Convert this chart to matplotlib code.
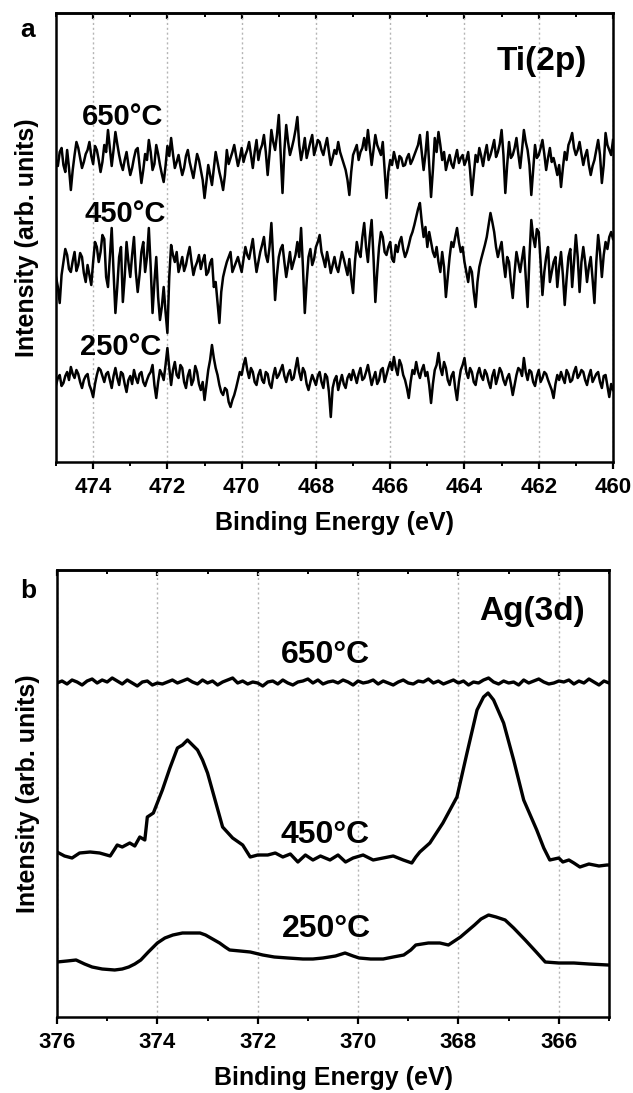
import numpy as np
import matplotlib.pyplot as plt
from matplotlib.ticker import MultipleLocator

plt.rcParams['font.family'] = 'Liberation Sans'
plt.rcParams['font.weight'] = 'bold'

# ---- panel a: Ti(2p), noise, 475 -> 460 eV ----
ti_650 = [0, -6, 8, 12, -5, -12, 10, -8, -30, -10, 5, 18, 12, 2, -8, -2, 6, 10, 18, 4, -4, 14, 10, 0, -12, -2, 15, 8, 30, 12, -6, 10, 28, 16, 5, -4, -10, 0, 8, -5,
          -15, -8, 2, 10, 12, -6, -23, -10, 6, 0, 20, 8, -10, -4, 15, 6, -5, -14, -22, -6, 14, 4, 22, 6, -8, -2, 5, -6, -15, -8, 4, 10, -2, -10, -18, -6, 6, 0, -10, -20,
          -38, -22, -5, -15, -25, -8, 8, -2, -12, -20, -30, -15, 10, -4, 2, 8, 15, 4, -6, 2, 12, -2, 5, 10, 18, 5, -8, 8, 20, 0, 10, 15, 25, 8, -15, 6, 30, 18, 10, 25,
          45, 5, -33, 10, 35, 18, 5, 12, 20, 30, 43, 15, 0, 10, 22, 2, 10, 18, 25, 5, 12, 20, 18, 10, 5, 14, 22, 8, -5, 2, 10, 6, 18, 8, 2, -4, -10, -20, -35, -12,
          5, 10, 15, 0, 8, 12, 22, 10, 30, 12, -5, 10, 25, 15, 10, 5, 18, -10, -38, -12, 0, -5, 8, 0, -8, 4, 2, -6, -5, 2, 6, -4, 0, 5, 10, 15, 25, 8, -10, 6,
          28, -5, -37, -10, 22, 8, 28, 15, 0, 8, -10, -2, 5, -4, -8, 2, 10, -3, 2, 5, -5, 0, 8, -10, -35, -15, 5, -2, 12, 4, -6, 6, 15, 0, 5, 12, 20, 3, 8, 16,
          30, 5, -33, -5, 18, 2, 5, 12, 22, 6, -8, 10, 30, 18, 10, -5, -35, -10, 15, 2, 5, 12, 20, 6, -10, 2, 12, -2, 2, -6, -15, -5, -27, -8, 8, 0, 15, 20, 27, 12,
          5, 10, 18, 6, -5, 4, 10, -5, -15, -6, 0, 10, 20, 5, -23, -5, 27, 15, 10, 5, 20]
ti_450 = [-10, -20, -36, -8, 5, 18, 12, -2, -5, 6, 15, -4, 2, 14, 10, -6, -15, 2, -8, -18, 5, 25, 20, 5, 15, 32, 28, -10, -20, 10, 39, -5, -46, -20, 10, 20, -35, -10, 25, 5,
          -10, 12, 30, -5, -25, -8, 15, 25, -5, 10, 39, 0, -46, -15, 10, -30, -53, -40, -20, -45, -66, -10, 22, 12, 5, 15, -5, 2, 10, -4, 2, 12, 20, 5, -8, 0, 5, 12, -2, 6,
          12, -8, -5, 4, 8, -20, -15, -35, -56, -25, -10, -2, 5, 10, 15, -5, 0, 5, 10, 2, -5, 8, 20, 12, 8, 18, 28, 10, -5, 5, 15, 22, 30, 12, 5, 20, 44, 8, -33, -8,
          10, 18, 22, 5, -10, 2, 15, -2, 5, 12, 25, 10, 39, 0, -46, -15, 10, 18, 2, 8, 20, 25, 32, 15, 8, 0, 15, 5, -6, 2, 10, 0, -5, 5, 15, 8, 0, -8, 8, -12,
          -26, 5, 25, 15, 10, 30, 44, 20, 5, 30, 47, 10, -35, -5, 20, 35, 30, 15, 12, 20, 25, 8, 5, 22, 15, 25, 30, 18, 10, 15, 22, 30, 35, 42, 50, 58, 64, 45, 30, 40,
          20, 35, 25, 15, 10, 20, 5, -5, 15, 0, -30, -10, 10, 25, 20, 30, 39, 25, 15, 20, 5, -5, -15, 0, -5, -25, -40, -15, 0, 8, 15, 22, 30, 42, 54, 45, 35, 20, 10, 18,
          25, 5, -10, 10, 5, -15, -31, -5, 15, 5, -5, 8, 20, -10, -40, 10, 47, 30, 20, 38, 35, 5, -28, -5, 10, 20, -15, -5, 5, 10, -20, 0, 15, -8, -38, -12, 10, 18, -20, 5,
          32, 10, -25, 5, 20, 5, -15, 0, 10, -12, -36, 5, 32, 15, -10, 12, 25, 18, 30, 35, 28]
ti_250 = [-5, 2, 5, -6, -3, 4, 8, 0, 13, 6, 2, 10, 6, -2, -8, 0, 4, 6, -5, -10, -17, -4, 5, 12, 10, 4, -2, 6, 8, 0, -8, 4, 12, 2, -5, 8, 6, -4, -12, 0,
          4, -4, 10, 2, -3, 6, 8, -2, -6, 0, 5, 8, 15, -5, -18, -2, 10, 6, 0, 15, 32, 12, -5, 10, 18, 5, 2, 15, 12, -2, -8, 4, 10, -5, 0, 14, 8, -4, -10, -2,
          -20, -5, 10, 20, 35, 22, 12, 5, -5, -12, -15, -8, -10, -22, -27, -20, -15, -8, 0, 8, 5, 15, 22, 10, 2, 12, 8, -2, -5, 5, 10, 0, -3, 8, 6, -4, -8, 4, 12, 2,
          5, 10, 15, 4, -2, 6, 10, 0, 2, 12, 22, 8, 0, 12, 8, -4, -10, -2, 5, 0, -5, 4, 8, -2, -8, 6, 3, -12, -37, -8, 0, 4, -10, -2, 5, -4, -8, 2, 6, 0,
          10, 4, -3, 6, 12, 0, 2, 8, 15, 5, -5, 2, 8, -4, 0, 10, 12, -2, 5, 12, 18, 10, 23, 12, 5, 20, 15, 5, 0, -8, -18, -2, 10, 6, 18, 8, 2, 10, 15, 4,
          8, -5, -23, -4, 10, 15, 27, 12, 5, 18, 12, 0, -5, 4, 8, -8, -20, -2, 10, 15, 22, 8, 2, 12, 8, -2, -5, 6, 12, 4, 0, 10, 6, -2, -8, 4, 10, -4, 3, 12,
          8, 0, -5, 2, 6, -4, -15, -5, 5, 12, 10, 4, 22, 8, 0, 10, 8, -2, -6, 4, 10, -2, 2, 8, 6, 0, -5, -10, -18, -4, 5, 0, 8, 2, -3, 10, 6, -2, 0, 8,
          13, 2, 5, 10, 8, 0, -5, 4, 10, -2, 2, 6, 8, -2, -8, 4, 5, -6, -17, -4, -10]
ti_offsets = [302, 195, 82]
ti_labels = ['650°C', '450°C', '250°C']

# ---- panel b: Ag(3d), 376 -> 365 eV ----
ag_650 = [0, 2, -1, 3, 1, -2, 2, 4, 0, 3, 1, 5, 2, -1, 3, 0, -3, 1, 2, -2,
          0, -1, 1, 3, 0, 2, 4, 1, -1, 3, 0, 2, -2, 1, 3, 5, 0, 2, -1, 1,
          0, -3, 1, 2, -1, 3, 0, -2, 1, 2, 4, 0, 3, -1, 1, 2, 0, 3, 1, -2,
          2, 0, 1, 3, -1, 2, 0, -2, 1, 3, 0, -1, 2, 1, 4, 0, 2, -1, 1, 3,
          0, 2, -2, 1, 0, 3, 5, 1, -1, 2, 0, 1, -2, 3, 0, 2, 4, 1, -1, 0,
          2, 1, 3, -1, 2, 0, 4, 1, -2, 2, 0]
ag_650_level = 334

ag_450_e = [376.0, 375.85, 375.7, 375.55, 375.34, 375.15, 374.94, 374.85, 374.8, 374.7,
            374.55, 374.45, 374.35, 374.25, 374.2, 374.08, 373.9, 373.75, 373.6, 373.5,
            373.4, 373.3, 373.2, 373.1, 373.0, 372.85, 372.7, 372.5, 372.3, 372.15,
            372.0, 371.8, 371.65, 371.5, 371.35, 371.2, 371.05, 370.9, 370.75, 370.56,
            370.4, 370.25, 370.1, 369.9, 369.7, 369.5, 369.3, 369.1, 368.93, 368.85,
            368.77, 368.57, 368.31, 368.03, 367.83, 367.63, 367.5, 367.41, 367.3, 367.1,
            366.9, 366.7, 366.44, 366.3, 366.18, 366.0, 365.92, 365.8, 365.7, 365.58,
            365.4, 365.2, 365.04, 365.0]
ag_450 = [165, 161, 159, 164, 165, 164, 161, 168, 172, 170,
          174, 171, 180, 177, 200, 204, 227, 249, 269, 272,
          277, 272, 267, 257, 244, 217, 190, 179, 172, 160,
          162, 162, 164, 160, 163, 155, 162, 157, 161, 157,
          162, 155, 159, 162, 157, 159, 161, 157, 154, 160,
          165, 174, 194, 220, 264, 307, 320, 324, 317, 294,
          257, 217, 187, 169, 157, 159, 155, 157, 154, 150,
          153, 151, 152, 152]

ag_250_e = [376.0, 375.8, 375.62, 375.45, 375.3, 375.1, 374.85, 374.7, 374.57, 374.45,
            374.33, 374.18, 374.0, 373.85, 373.69, 373.5, 373.28, 373.15, 373.04, 372.9,
            372.76, 372.65, 372.56, 372.35, 372.15, 371.9, 371.67, 371.4, 371.1, 370.9,
            370.7, 370.45, 370.26, 370.1, 369.98, 369.75, 369.5, 369.3, 369.09, 368.95,
            368.85, 368.6, 368.37, 368.2, 368.08, 367.96, 367.82, 367.68, 367.55, 367.4,
            367.25, 367.07, 366.9, 366.67, 366.45, 366.27, 366.0, 365.7, 365.4, 365.02]
ag_250 = [55, 56, 57, 53, 50, 48, 47, 48, 50, 53,
          57, 65, 74, 79, 82, 84, 84, 84, 82, 78,
          74, 70, 67, 66, 65, 62, 60, 59, 58, 58,
          59, 61, 64, 61, 59, 58, 58, 60, 62, 67,
          72, 74, 74, 72, 76, 80, 86, 92, 98, 102,
          100, 97, 89, 77, 65, 55, 54, 54, 53, 52]

fig = plt.figure(figsize=(6.33, 10.93), dpi=100)
ax1 = fig.add_axes([56/633, 1-462/1093, 557/633, 449/1093])
ax2 = fig.add_axes([57/633, 1-1017/1093, 552/633, 447/1093])


def style(ax, lo, hi, ymax):
    ax.set_xlim(lo, hi)
    ax.set_ylim(0, ymax)
    ax.xaxis.set_major_locator(MultipleLocator(2))
    ax.xaxis.set_minor_locator(MultipleLocator(1))
    ax.set_yticks([])
    for s in ax.spines.values():
        s.set_linewidth(1.8)
    ax.tick_params(axis='x', which='major', direction='out', length=5, width=1.6,
                   labelsize=16, pad=6)
    ax.tick_params(axis='x', which='minor', direction='out', length=3, width=1.4)
    ax.grid(axis='x', which='major', linestyle=(0, (1.5, 2)), color='#b5b5b5', linewidth=1)
    sec = ax.secondary_xaxis('top')
    sec.xaxis.set_major_locator(MultipleLocator(2))
    sec.xaxis.set_minor_locator(MultipleLocator(1))
    sec.tick_params(which='major', direction='in', length=4, width=1.6, labeltop=False)
    sec.tick_params(which='minor', direction='in', length=3, width=1.4, labeltop=False)
    sec.spines['top'].set_linewidth(1.8)
    ax.set_xlabel('Binding Energy (eV)', fontsize=18, fontweight='bold', labelpad=9)
    ax.set_ylabel('Intensity (arb. units)', fontsize=18, fontweight='bold', labelpad=12)


# panel a
for vals, off in zip([ti_650, ti_450, ti_250], ti_offsets):
    e = np.linspace(475, 460, len(vals))
    ax1.plot(e, np.array(vals) + off, color='black', lw=1.8)
style(ax1, 475, 460, 449)
ax1.text(474.3, 337, ti_labels[0], fontsize=21, ha='left', va='baseline')
ax1.text(474.22, 240, ti_labels[1], fontsize=21, ha='left', va='baseline')
ax1.text(474.35, 107, ti_labels[2], fontsize=21, ha='left', va='baseline')
ax1.text(460.7, 392, 'Ti(2p)', fontsize=24, ha='right', va='baseline')

# panel b
e_ag = np.linspace(376, 365, len(ag_650))
ax2.plot(e_ag, np.array(ag_650) + ag_650_level, color='black', lw=2.4)
ax2.plot(ag_450_e, ag_450, color='black', lw=2.4)
ax2.plot(ag_250_e, ag_250, color='black', lw=2.4)
style(ax2, 376, 365, 447)
ax2.text(370.65, 354, '650°C', fontsize=23, ha='center', va='baseline')
ax2.text(370.65, 174, '450°C', fontsize=23, ha='center', va='baseline')
ax2.text(370.63, 80, '250°C', fontsize=23, ha='center', va='baseline')
ax2.text(365.48, 397, 'Ag(3d)', fontsize=24, ha='right', va='baseline')

fig.text(20/633, 1-37/1093, 'a', fontsize=19, fontweight='bold', va='baseline')
fig.text(20/633, 1-598/1093, 'b', fontsize=19, fontweight='bold', va='baseline')

fig.savefig('out.png', dpi=100)
